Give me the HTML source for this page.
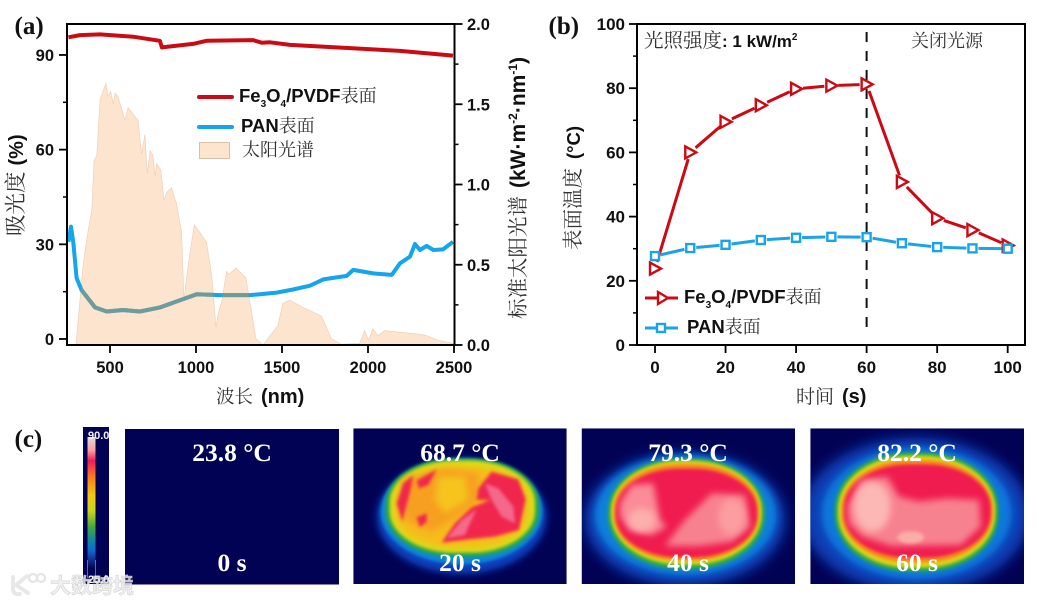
<!DOCTYPE html>
<html lang="zh">
<head>
<meta charset="utf-8">
<title>Fe3O4/PVDF solar absorption and surface temperature</title>
<style>
html,body{margin:0;padding:0;background:#fff;width:1039px;height:604px;overflow:hidden}
svg{display:block}
.tick{font:bold 16.5px "Liberation Sans",sans-serif;fill:#111}
.tickb{font:bold 17px "Liberation Sans",sans-serif;fill:#111}
.cn{font-family:"Noto Serif CJK SC","Liberation Serif",serif;font-weight:400;fill:#333}
.en{font-family:"Liberation Sans","Noto Sans CJK SC",sans-serif;font-weight:700;fill:#111}
.panel{font:bold 25px "Liberation Serif",serif;fill:#111}
.overlay{font:bold 25.5px "Liberation Serif",serif;fill:#fff;text-anchor:middle}
</style>
</head>
<body>
<svg id="fig" xmlns="http://www.w3.org/2000/svg" width="1039" height="604" viewBox="0 0 1039 604">
<defs>
<filter id="b1" x="-20%" y="-20%" width="140%" height="140%"><feGaussianBlur stdDeviation="5"/></filter>
<filter id="b2" x="-20%" y="-20%" width="140%" height="140%"><feGaussianBlur stdDeviation="10"/></filter>
<filter id="b3" x="-20%" y="-20%" width="140%" height="140%"><feGaussianBlur stdDeviation="18"/></filter>
<clipPath id="c2"><rect x="25" y="25" width="640" height="467"/></clipPath>
<clipPath id="c3"><rect x="20" y="25" width="640" height="467"/></clipPath>
<clipPath id="c4"><rect x="19" y="25" width="641" height="467"/></clipPath>
<clipPath id="spectrum-clip"><path id="spectrum-clip-path" d=""/></clipPath>
<linearGradient id="cbar" x1="0" y1="0" x2="0" y2="1">
<stop offset="0" stop-color="#e4dcd4"/><stop offset=".1" stop-color="#f9a0a4"/><stop offset=".18" stop-color="#f01c58"/>
<stop offset=".3" stop-color="#fb7a1c"/><stop offset=".44" stop-color="#f3c812"/><stop offset=".56" stop-color="#c8d420"/>
<stop offset=".68" stop-color="#48a838"/><stop offset=".78" stop-color="#1488a0"/><stop offset=".86" stop-color="#1068d0"/>
<stop offset=".95" stop-color="#10207c"/><stop offset="1" stop-color="#020250"/>
</linearGradient>
</defs>
<rect width="1039" height="604" fill="#fff"/>

<g id="chart-a"></g>
<g id="chart-b"></g>

<!-- static labels -->
<text class="panel" x="14.5" y="34">(a)</text>
<text class="panel" x="548.5" y="34">(b)</text>
<text class="panel" x="14.5" y="447">(c)</text>

<text x="216" y="403"><tspan class="cn" font-size="18.5">波长</tspan><tspan class="en" font-size="20" dx="8">(nm)</tspan></text>
<text transform="translate(23,236) rotate(-90)"><tspan class="cn" font-size="21.5">吸光度</tspan><tspan class="en" font-size="20" dx="6">(%)</tspan></text>
<text transform="translate(525,319) rotate(-90)"><tspan class="cn" font-size="20.5">标准太阳光谱</tspan><tspan class="en" font-size="21" dx="8">(kW·m</tspan><tspan class="en" font-size="12" dy="-8">-2</tspan><tspan class="en" font-size="21" dy="8">·nm</tspan><tspan class="en" font-size="12" dy="-8">-1</tspan><tspan class="en" font-size="21" dy="8">)</tspan></text>

<g>
<line x1="199" x2="232" y1="97" y2="97" stroke="#cc0a14" stroke-width="4" stroke-linecap="round"/>
<text x="239" y="102"><tspan class="en" font-size="18.5">Fe</tspan><tspan class="en" font-size="10" dy="5">3</tspan><tspan class="en" font-size="18.5" dy="-5">O</tspan><tspan class="en" font-size="10" dy="5">4</tspan><tspan class="en" font-size="18.5" dy="-5">/PVDF</tspan><tspan class="cn" font-size="18">表面</tspan></text>
<line x1="199" x2="232" y1="127" y2="127" stroke="#14a5ec" stroke-width="4" stroke-linecap="round"/>
<text x="241" y="132"><tspan class="en" font-size="18.5">PAN</tspan><tspan class="cn" font-size="18">表面</tspan></text>
<rect x="199.5" y="142.5" width="30" height="16" fill="#fce4cf" stroke="#d9bfa8"/>
<text class="cn" x="242" y="156" font-size="18">太阳光谱</text>
</g>

<text x="796" y="403"><tspan class="cn" font-size="19">时间</tspan><tspan class="en" font-size="20" dx="8">(s)</tspan></text>
<text transform="translate(580,250) rotate(-90)"><tspan class="cn" font-size="20.5">表面温度</tspan><tspan class="en" font-size="18.5" dx="9">(°C)</tspan></text>
<text x="644" y="47"><tspan class="cn" font-size="19.5">光照强度</tspan><tspan class="en" font-size="17">: 1 kW/m</tspan><tspan class="en" font-size="10" dy="-7">2</tspan></text>
<text class="cn" x="911" y="47" font-size="18">关闭光源</text>

<g>
<line x1="645" x2="657" y1="298" y2="298" stroke="#cc0a14" stroke-width="3"/>
<line x1="667" x2="678" y1="298" y2="298" stroke="#cc0a14" stroke-width="3"/>
<polygon points="658,292 668,298 658,304" fill="#fff" stroke="#cc0a14" stroke-width="2.4"/>
<text x="684" y="303"><tspan class="en" font-size="18.5">Fe</tspan><tspan class="en" font-size="10" dy="5">3</tspan><tspan class="en" font-size="18.5" dy="-5">O</tspan><tspan class="en" font-size="10" dy="5">4</tspan><tspan class="en" font-size="18.5" dy="-5">/PVDF</tspan><tspan class="cn" font-size="18">表面</tspan></text>
<line x1="645" x2="678" y1="328" y2="328" stroke="#1ba3e8" stroke-width="3"/>
<rect x="657" y="324" width="8" height="8" fill="#fff" stroke="#1ba3e8" stroke-width="2.4"/>
<text x="687" y="333"><tspan class="en" font-size="18.5">PAN</tspan><tspan class="cn" font-size="18">表面</tspan></text>
</g>

<!-- colour bar -->
<g>
<rect x="83" y="427" width="26" height="157" fill="#020255"/>
<rect x="87.5" y="437" width="8" height="132" fill="url(#cbar)"/>
<line x1="87.5" x2="87.5" y1="560" y2="578" stroke="#99a" stroke-width=".7"/>
<line x1="95.5" x2="95.5" y1="560" y2="578" stroke="#99a" stroke-width=".7"/>
<text x="88" y="439" font-family="Liberation Sans" font-weight="700" font-size="11" fill="#f2f2f2">90.0</text>
<text x="88" y="583" font-family="Liberation Sans" font-weight="700" font-size="11" fill="#f2f2f2">25.0</text>
</g>

<!-- thermal images -->
<g>
<rect x="125" y="429" width="214" height="155.5" fill="#020255"/>
<text class="overlay" x="232" y="461">23.8 °C</text>
<text class="overlay" x="232" y="571">0 s</text>
</g>

<g>
<g transform="translate(345,420) scale(.33333)" clip-path="url(#c2)">
<rect x="25" y="25" width="640" height="467" fill="#020255"/>
<g>
<ellipse cx="350" cy="290" rx="255" ry="172" fill="#0a40bc" filter="url(#b2)"/>
<ellipse cx="350" cy="275" rx="243" ry="158" fill="#0f86d8" filter="url(#b1)"/>
<rect x="122" y="115" width="460" height="295" rx="205" ry="135" fill="#26a84c" filter="url(#b1)"/>
<rect x="134" y="122" width="436" height="276" rx="195" ry="125" fill="#dcdc12" filter="url(#b1)"/>
<rect x="150" y="140" width="400" height="242" rx="170" ry="105" fill="#f6bc1c" filter="url(#b2)"/>
<path d="M170,180 L300,145 L400,160 L400,240 L320,300 L260,335 L180,300Z" fill="#f79a20" filter="url(#b2)" opacity=".85"/>
<path d="M280,170 L360,170 L370,240 L300,280 L270,240Z" fill="#f6c41e" filter="url(#b2)"/>
<path d="M155,250 L175,190 L205,165 L195,215 L172,305Z" fill="#f0284e" filter="url(#b1)"/>
<path d="M215,182 L275,148 L250,195 L222,205Z" fill="#f0284e" filter="url(#b1)"/>
<path d="M215,292 L245,280 L245,305 L225,322Z" fill="#f0284e" filter="url(#b1)"/>
<path d="M400,205 L440,155 L520,178 L542,238 L522,330 L450,350 L370,358 L290,368 L330,310 L380,262 L435,240 L395,240Z" fill="#f0264e" filter="url(#b1)"/>
<path d="M420,190 L460,205 L505,260 L510,310 L470,290 L440,240Z" fill="#f4688c" filter="url(#b1)"/>
<path d="M305,355 L350,300 L395,268 L370,320 L360,345Z" fill="#f56a8a" filter="url(#b1)"/>
</g>
</g>
<text class="overlay" x="460" y="461">68.7 °C</text>
<text class="overlay" x="460" y="571">20 s</text>
</g>

<g>
<g transform="translate(575,420) scale(.33333)" clip-path="url(#c3)">
<rect x="20" y="25" width="640" height="467" fill="#020255"/>
<g>
<ellipse cx="330" cy="298" rx="300" ry="200" fill="#0a44bc" filter="url(#b3)"/>
<ellipse cx="332" cy="285" rx="272" ry="180" fill="#0c80dc" filter="url(#b2)"/>
<rect x="98" y="115" width="472" height="332" rx="220" ry="160" fill="#2aa84c" filter="url(#b1)"/>
<rect x="108" y="122" width="452" height="312" rx="210" ry="150" fill="#dcd816" filter="url(#b1)"/>
<rect x="116" y="132" width="436" height="290" rx="200" ry="135" fill="#f88c1c" filter="url(#b1)"/>
<rect x="122" y="146" width="424" height="266" rx="190" ry="125" fill="#f01e50" filter="url(#b1)"/>
<path d="M135,250 L170,195 L235,190 L255,300 L275,320 L230,345 L165,330 L135,290Z" fill="#f98c98" filter="url(#b2)"/>
<path d="M270,378 L330,300 L410,220 L510,225 L525,320 L470,365 L370,378Z" fill="#f7828f" filter="url(#b2)"/>
<ellipse cx="200" cy="300" rx="40" ry="35" fill="#fbb0ac" filter="url(#b2)"/>
<ellipse cx="470" cy="290" rx="40" ry="55" fill="#fa9ea0" filter="url(#b2)"/>
</g>
</g>
<text class="overlay" x="688" y="461">79.3 °C</text>
<text class="overlay" x="688" y="571">40 s</text>
</g>

<g>
<g transform="translate(804,420) scale(.33333)" clip-path="url(#c4)">
<rect x="19" y="25" width="641" height="467" fill="#020255"/>
<g>
<ellipse cx="335" cy="285" rx="340" ry="232" fill="#0840b8" filter="url(#b3)"/>
<ellipse cx="338" cy="280" rx="285" ry="198" fill="#0c78dc" filter="url(#b2)"/>
<rect x="92" y="97" width="492" height="358" rx="225" ry="170" fill="#2aa84c" filter="url(#b1)"/>
<rect x="102" y="107" width="472" height="336" rx="215" ry="160" fill="#dcd816" filter="url(#b1)"/>
<rect x="112" y="120" width="454" height="308" rx="205" ry="145" fill="#f88c1c" filter="url(#b1)"/>
<rect x="120" y="133" width="440" height="280" rx="195" ry="130" fill="#f01e50" filter="url(#b1)"/>
<path d="M130,260 L170,180 L250,170 L285,230 L345,245 L430,235 L525,240 L530,320 L470,375 L265,378 L175,350 L135,310Z" fill="#f7828f" filter="url(#b2)"/>
<ellipse cx="205" cy="260" rx="55" ry="75" fill="#fcb8b4" filter="url(#b2)"/>
<ellipse cx="320" cy="352" rx="40" ry="18" fill="#fbaea8" filter="url(#b1)"/>
</g>
</g>
<text class="overlay" x="917" y="461">82.2 °C</text>
<text class="overlay" x="917" y="571">60 s</text>
</g>

<!-- watermark -->
<g opacity=".85">
<path d="M13,577 V590 Q14,595 20,594 M27,576 L16,585 L28,593" fill="none" stroke="#e4e4e4" stroke-width="4" stroke-linecap="round"/>
<circle cx="33" cy="578" r="4" fill="none" stroke="#e0e0e0" stroke-width="2.2"/>
<circle cx="41" cy="578" r="4" fill="none" stroke="#e0e0e0" stroke-width="2.2"/>
<text x="50" y="593" font-family="Noto Sans CJK SC, sans-serif" font-size="21" font-weight="700" fill="#eeeeee" stroke="#c4c4c4" stroke-width=".5">大数跨境</text>
</g>

<script>
// ---------- Panel (a) data ----------
const spectrumWavelengths = [302,345,374,394,407,423,442,477,488,504,519,529,546,587,605,663,684,703,717,733,750,762,771,796,814,829,858,887,916,930,953,990,1061,1092,1116,1128,1151,1178,1191,1232,1290,1348,1389,1468,1476,1505,1545,1613,1729,1787,1845,1951,1980,2003,2028,2058,2097,2184,2281,2339,2404,2497];
const spectrumValues = [0,0.51,0.72,0.84,1.15,1.18,1.53,1.63,1.55,1.58,1.50,1.57,1.55,1.40,1.48,1.40,1.19,1.31,1.07,1.21,1.18,1.05,1.13,1.09,0.90,0.95,0.98,0.88,0.70,0.28,0.49,0.75,0.64,0.43,0.11,0.19,0.28,0.46,0.44,0.48,0.42,0.04,0,0.11,0.12,0.26,0.28,0.24,0.18,0.04,0.005,0.01,0.09,0.03,0.10,0.06,0.09,0.08,0.07,0.06,0.03,0.01];
const absorberWavelengths = [258,326,442,634,790,802,982,1061,1331,1382,1430,1547,1855,2186,2494];
const absorberValues = [95.6,96.3,96.5,95.8,94.5,92.4,93.5,94.5,94.7,93.9,94.0,93.2,92.3,91.3,89.8];
const panWavelengths = [258,273,287,306,335,413,481,576,674,791,866,1004,1140,1314,1372,1469,1564,1663,1740,1876,1914,2031,2138,2186,2244,2273,2302,2341,2380,2436,2494];
const panValues = [30.8,35.6,30.3,19.3,15.5,10,8.7,9.2,8.7,10,11.5,14.2,13.9,13.9,14.2,14.7,15.7,16.9,18.9,20,21.9,20.8,20.3,24,26.1,30.1,28.2,29.5,28.2,28.4,30.8];
const aXTicks = [500,1000,1500,2000,2500];
const aLeftMajor = [0,30,60,90];
const aLeftMinor = [15,45,75];
const aRightMajor = [0,0.5,1,1.5,2];
const aRightMinor = [0.25,0.75,1.25,1.75];
// ---------- Panel (b) data ----------
const timeSeconds = [0,10,20,30,40,50,60,70,80,90,100];
const absorberTemps = [23.8,60,69.5,74.7,79.8,80.8,81.2,50.8,39.5,35.8,31];
const panTemps = [27.7,30.2,31.2,32.7,33.4,33.7,33.6,31.7,30.5,30.1,30];
const bXTicks = [0,20,40,60,80,100];
const bYMajor = [0,20,40,60,80,100];
const bYMinor = [10,30,50,70,90];
const lightOffTime = [60];

const NS = 'http://www.w3.org/2000/svg';
function make(parent, tag, attrs, text) {
  const node = document.createElementNS(NS, tag);
  for (const k in attrs) node.setAttribute(k, attrs[k]);
  if (text !== undefined) node.textContent = text;
  parent.appendChild(node);
  return node;
}
function linePath(xs, ys) {
  return xs.map((v, i) => (i ? 'L' : 'M') + v.toFixed(1) + ',' + ys[i].toFixed(1)).join(' ');
}

// Axis functions, panel (a)
const ax = w => 110 + (w - 500) * 0.172;
const ayL = v => 339 - v * 3.156;
const ayR = v => 345 - v * 160.5;
const A = document.getElementById('chart-a');
const aBox = {l: 67, r: 454.5, t: 24, b: 345};

const areaD = 'M' + ax(spectrumWavelengths[0]).toFixed(1) + ',' + ayR(0) + ' ' +
  spectrumWavelengths.map((w, i) => 'L' + ax(w).toFixed(1) + ',' + ayR(spectrumValues[i]).toFixed(1)).join(' ') +
  ' L' + ax(spectrumWavelengths[spectrumWavelengths.length - 1]).toFixed(1) + ',' + ayR(0) + ' Z';
document.getElementById('spectrum-clip-path').setAttribute('d', areaD);

let el = make(A, 'path', {d: areaD, fill: '#fce4cf', stroke: '#eccdb4', 'stroke-width': 0.6});



el = make(A, 'path', {d: linePath(absorberWavelengths.map(ax), absorberValues.map(ayL)), fill: 'none', stroke: '#cc0a14', 'stroke-width': 4, 'stroke-linejoin': 'round'});



const panD = linePath(panWavelengths.map(ax), panValues.map(ayL));
el = make(A, 'path', {d: panD, fill: 'none', stroke: '#14a5ec', 'stroke-width': 4, 'stroke-linejoin': 'round'});



el = make(A, 'path', {d: panD, fill: 'none', stroke: '#6f9c9a', 'stroke-width': 4, 'stroke-linejoin': 'round', 'clip-path': 'url(#spectrum-clip)'});



el = make(A, 'path', {d: `M${aBox.l},${aBox.b} V${aBox.t} H${aBox.r} V${aBox.b} Z`, fill: 'none', stroke: '#000', 'stroke-width': 2});



aXTicks.forEach(v => {
  let t = make(A, 'line', {x1: ax(v), x2: ax(v), y1: aBox.b, y2: aBox.b + 8, stroke: '#000', 'stroke-width': 1.8});
  
  
  t = make(A, 'text', {x: ax(v), y: 373, class: 'tick', 'text-anchor': 'middle'}, String(v));
  
  
});
aLeftMajor.forEach(v => {
  let t = make(A, 'line', {x1: aBox.l - 8, x2: aBox.l, y1: ayL(v), y2: ayL(v), stroke: '#000', 'stroke-width': 1.8});
  
  
  t = make(A, 'text', {x: 54, y: ayL(v) + 6, class: 'tick', 'text-anchor': 'end'}, String(v));
  
  
});
aLeftMinor.forEach(v => {
  const t = make(A, 'line', {x1: aBox.l - 4, x2: aBox.l, y1: ayL(v), y2: ayL(v), stroke: '#000', 'stroke-width': 1.5});
  
  
});
aRightMajor.forEach(v => {
  let t = make(A, 'line', {x1: aBox.r, x2: aBox.r + 8, y1: ayR(v), y2: ayR(v), stroke: '#000', 'stroke-width': 1.8});
  
  
  t = make(A, 'text', {x: 467, y: ayR(v) + 6, class: 'tick'}, v.toFixed(1));
  
  
});
aRightMinor.forEach(v => {
  const t = make(A, 'line', {x1: aBox.r, x2: aBox.r + 4, y1: ayR(v), y2: ayR(v), stroke: '#000', 'stroke-width': 1.5});
  
  
});

// Axis functions, panel (b)
const bx = t => 655 + t * 3.527;
const by = v => 345 - v * 3.21;
const B = document.getElementById('chart-b');
const bBox = {l: 637, r: 1025, t: 24, b: 345};

el = make(B, 'path', {d: `M${bBox.l},${bBox.b} V${bBox.t} H${bBox.r} V${bBox.b} Z`, fill: 'none', stroke: '#000', 'stroke-width': 2});



bXTicks.forEach(v => {
  let t = make(B, 'line', {x1: bx(v), x2: bx(v), y1: bBox.b, y2: bBox.b + 8, stroke: '#000', 'stroke-width': 1.8});
  
  
  t = make(B, 'text', {x: bx(v), y: 373, class: 'tickb', 'text-anchor': 'middle'}, String(v));
  
  
});
bYMajor.forEach(v => {
  let t = make(B, 'line', {x1: bBox.l - 8, x2: bBox.l, y1: by(v), y2: by(v), stroke: '#000', 'stroke-width': 1.8});
  
  
  t = make(B, 'text', {x: 625, y: by(v) + 6, class: 'tickb', 'text-anchor': 'end'}, String(v));
  
  
});
bYMinor.forEach(v => {
  const t = make(B, 'line', {x1: bBox.l - 4, x2: bBox.l, y1: by(v), y2: by(v), stroke: '#000', 'stroke-width': 1.5});
  
  
});

el = make(B, 'line', {x1: bx(lightOffTime[0]), x2: bx(lightOffTime[0]), y1: 32, y2: 329, stroke: '#111', 'stroke-width': 2, 'stroke-dasharray': '10 9'});



function gapped(values, color, gap) {
  const out = [];
  for (let i = 0; i + 1 < values.length; i++) {
    const x1 = bx(timeSeconds[i]), y1 = by(values[i]), x2 = bx(timeSeconds[i + 1]), y2 = by(values[i + 1]);
    const d = Math.hypot(x2 - x1, y2 - y1);
    if (d <= 2 * gap) continue;
    const ux = (x2 - x1) / d, uy = (y2 - y1) / d;
    out.push(make(B, 'line', {x1: x1 + ux * gap, y1: y1 + uy * gap, x2: x2 - ux * gap, y2: y2 - uy * gap, stroke: color, 'stroke-width': 3}));
  }
  return out;
}
gapped(absorberTemps, '#cc0a14', 7).forEach(s => {
  
  
});
absorberTemps.forEach((v, i) => {
  const cx = bx(timeSeconds[i]), cy = by(v);
  const m = make(B, 'polygon', {points: `${cx - 5},${cy - 6} ${cx + 6},${cy} ${cx - 5},${cy + 6}`, fill: '#fff', stroke: '#cc0a14', 'stroke-width': 2.4});
  
  
});
gapped(panTemps, '#1ba3e8', 6).forEach(s => {
  
  
});
panTemps.forEach((v, i) => {
  const cx = bx(timeSeconds[i]), cy = by(v);
  const m = make(B, 'rect', {x: cx - 4, y: cy - 4, width: 8, height: 8, fill: '#fff', stroke: '#1ba3e8', 'stroke-width': 2.4});
  
  
});
</script>
</svg>
</body>
</html>
